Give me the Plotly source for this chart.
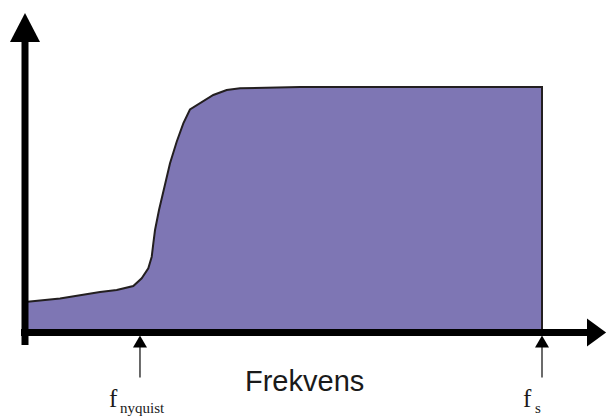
import plotly.graph_objects as go

# Normalised frequency (f_s = 1) and normalised level (passband = 1)
freq = [0.0, 0.0677, 0.1451, 0.1774, 0.2095, 0.2257, 0.2385, 0.2451, 0.2482,
        0.2515, 0.2592, 0.2675, 0.2805, 0.2934, 0.3062, 0.3191, 0.3385,
        0.3642, 0.3901, 0.4159, 0.5319, 1.0, 1.0]
level = [0.124, 0.1385, 0.165, 0.1731, 0.1894, 0.2208, 0.2615, 0.3088, 0.3633,
         0.4175, 0.499, 0.5764, 0.6892, 0.7772, 0.8521, 0.9084, 0.9336,
         0.9674, 0.9878, 0.9947, 1.0, 1.0, 0.0]

tick_freqs = [0.2224, 1.0]
tick_names = ["nyquist", "s"]
# label offsets (pixels) of the "f" centre and subscript start relative to the tick
f_offsets = [-26.5, -14.5]
sub_offsets = [-22, -9]
axis_title = "Frekvens"

X_RANGE = [-0.04836, 1.12573]
Y_RANGE = [-0.3483, 1.3544]
px_x = (X_RANGE[1] - X_RANGE[0]) / 607.0   # data units per pixel
px_y = (Y_RANGE[1] - Y_RANGE[0]) / 418.0

fig = go.Figure()
fig.add_trace(go.Scatter(
    x=freq, y=level, mode="lines", fill="tozeroy",
    fillcolor="#7E76B4", line=dict(color="#231F20", width=2),
    hoverinfo="skip", showlegend=False))

BLACK = "#000000"
shapes = []
# vertical axis
shapes.append(dict(type="line", xref="x", yref="y", x0=0, x1=0,
                   y0=-12.5 * px_y, y1=1.19, line=dict(color=BLACK, width=7)))
shapes.append(dict(type="path", xref="x", yref="y",
                   path=f"M {-15*px_x},{1.183} L {15*px_x},{1.183} L 0,{1.301} Z",
                   fillcolor=BLACK, line=dict(width=0)))
# horizontal axis
shapes.append(dict(type="line", xref="x", yref="y", x0=-4 * px_x, x1=1.09,
                   y0=0, y1=0, line=dict(color=BLACK, width=7)))
shapes.append(dict(type="path", xref="x", yref="y",
                   path=f"M 1.087,{14*px_y} L 1.087,{-14*px_y} L 1.124,0 Z",
                   fillcolor=BLACK, line=dict(width=0)))
# small tick arrows
for f in tick_freqs:
    shapes.append(dict(type="line", xref="x", yref="y", x0=f, x1=f,
                       y0=-14 * px_y, y1=-45 * px_y,
                       line=dict(color="#3a3a3a", width=1.5)))
    shapes.append(dict(type="path", xref="x", yref="y",
                       path=f"M {f-7*px_x},{-15*px_y} L {f+7*px_x},{-15*px_y} L {f},{-3*px_y} Z",
                       fillcolor=BLACK, line=dict(width=0)))

annotations = []
annotations.append(dict(x=0.540, y=-48.5 * px_y, xref="x", yref="y",
                        text=axis_title, showarrow=False,
                        font=dict(family="Liberation Sans", size=29, color="#1a1a1a"),
                        xanchor="center", yanchor="middle"))
for f, name, fo, so in zip(tick_freqs, tick_names, f_offsets, sub_offsets):
    annotations.append(dict(x=f + fo * px_x, y=-66 * px_y, xref="x", yref="y",
                            text="f", showarrow=False,
                            font=dict(family="Liberation Serif", size=25, color="#1a1a1a"),
                            xanchor="center", yanchor="middle"))
    annotations.append(dict(x=f + so * px_x, y=-76 * px_y, xref="x", yref="y",
                            text=name, showarrow=False,
                            font=dict(family="Liberation Serif", size=15, color="#1a1a1a"),
                            xanchor="left", yanchor="middle"))

fig.update_layout(
    width=607, height=418,
    margin=dict(l=0, r=0, t=0, b=0),
    paper_bgcolor="white", plot_bgcolor="white",
    xaxis=dict(range=X_RANGE, visible=False, fixedrange=True),
    yaxis=dict(range=Y_RANGE, visible=False, fixedrange=True),
    shapes=shapes, annotations=annotations,
)
fig.write_html(
    "out.html",
    config={"displayModeBar": False},
    post_script="document.body.style.margin='0';document.body.style.overflow='hidden';",
)
